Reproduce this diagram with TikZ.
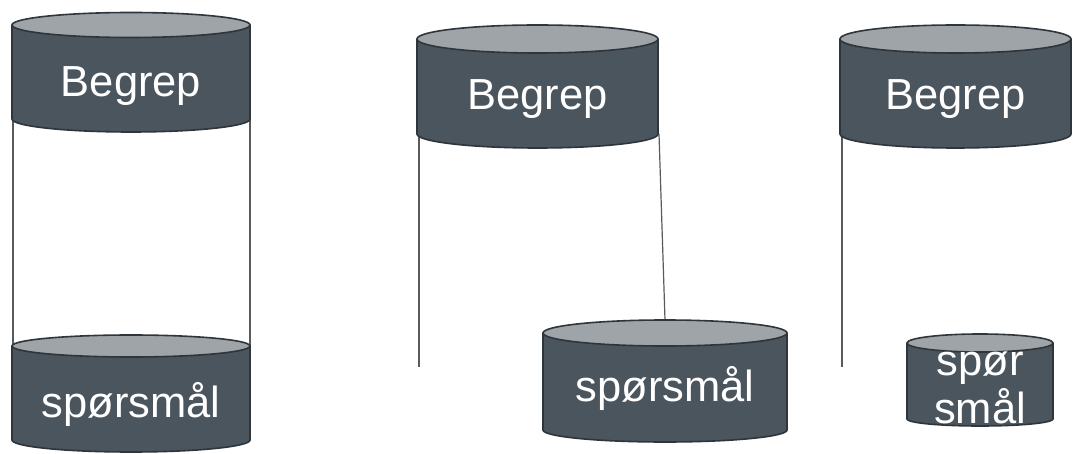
\documentclass[tikz,border=0pt]{standalone}
\usepackage{fontspec}
\setmainfont{Liberation Sans}
\usetikzlibrary{backgrounds}

\definecolor{drumfill}{HTML}{4B555E}
\definecolor{drumlid}{HTML}{9FA4A9}
\definecolor{drumline}{HTML}{2E353B}
\definecolor{linkgray}{HTML}{5A5A5A}

\tikzset{
  drumbody/.style={fill=drumfill},
  drumedge/.style={draw=drumline, line width=1.6pt},
  drumtop/.style={fill=drumlid, draw=drumline, line width=1.6pt},
  drumtext/.style={text=white, font=\fontsize{43.5}{48}\selectfont, anchor=base, inner sep=0pt, align=center},
  link/.style={draw=linkgray, line width=1.2pt},
}

% \drum{name}{centre x}{lid centre y}{floor centre y}{x radius}{lid y radius}{floor y radius}
% y is measured downwards from the top edge
\newcommand\drum[7]{%
  \fill[drumbody] (#2-#5,-#3) -- (#2-#5,-#4)
    arc[start angle=180,end angle=360,x radius=#5,y radius=#7] -- (#2+#5,-#3) -- cycle;
  \draw[drumedge] (#2-#5,-#3) -- (#2-#5,-#4)
    arc[start angle=180,end angle=360,x radius=#5,y radius=#7] -- (#2+#5,-#3);
  \path[drumtop] (#2,-#3) ellipse[x radius=#5,y radius=#6];
  \coordinate (#1-lid) at (#2,-#3+#6);
  \coordinate (#1-ul) at (#2-#5,-#3);
  \coordinate (#1-ur) at (#2+#5,-#3);
  \coordinate (#1-ll) at (#2-#5,-#4);
  \coordinate (#1-lr) at (#2+#5,-#4);
}

\begin{document}
\begin{tikzpicture}[x=1pt,y=1pt]
  \useasboundingbox (0,0) rectangle (1073,-454);

  % first pair
  \drum{a}{131}{25}{119}{119}{12.5}{13}
  \drum{b}{131}{346}{440}{119}{11}{12}
  \node[drumtext] (ta) at (131,-97) {Begrep};
  \node[drumtext] (tb) at (131,-417) {spørsmål};

  % second pair
  \drum{c}{537.5}{39}{134}{120.5}{14}{14}
  \drum{d}{665}{333}{430}{122}{13}{12}
  \node[drumtext] (tc) at (537.5,-110) {Begrep};
  \node[drumtext] (td) at (665,-401) {spørsmål};

  % third pair
  \drum{e}{955.5}{39}{134}{115.5}{14}{14}
  \drum{f}{980}{343}{419}{73}{9}{7}
  \node[drumtext] (tf) at (980,-423) {spør\\smål};
  \node[drumtext] (te) at (955.5,-110) {Begrep};

  \coordinate (c-end) at (419,-367);
  \coordinate (e-end) at (842,-367);

  \begin{scope}[on background layer]
    \fill[white] (0,0) rectangle (1073,-454);
    \draw[link] ([xshift=1pt]a-ll) -- ([xshift=1pt]b-ul);
    \draw[link] (a-lr) -- (b-ur);
    \draw[link] ([xshift=2pt]c-ll) -- (c-end);
    \draw[link] ([xshift=1pt]c-lr) -- (d-lid);
    \draw[link] ([xshift=2pt]e-ll) -- (e-end);
  \end{scope}
\end{tikzpicture}
\end{document}
